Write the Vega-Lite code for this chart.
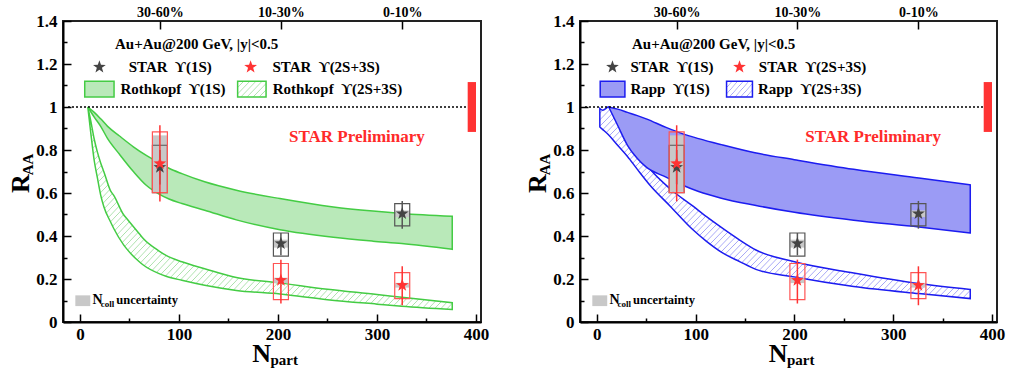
{
  "$schema": "https://vega.github.io/schema/vega-lite/v6.json",
  "background": "white",
  "padding": {"left": 7, "top": 4, "right": 5, "bottom": 2},
  "spacing": 99,
  "bounds": "flush",
  "datasets": {
    "r1S": [
      {"N": 8, "lo": 1.0, "hi": 1.0}, {"N": 14.5, "lo": 0.953, "hi": 0.975}, {"N": 21, "lo": 0.91, "hi": 0.945},
      {"N": 28, "lo": 0.853, "hi": 0.91}, {"N": 40, "lo": 0.78, "hi": 0.865}, {"N": 54, "lo": 0.70, "hi": 0.815},
      {"N": 67, "lo": 0.636, "hi": 0.775}, {"N": 80, "lo": 0.595, "hi": 0.74}, {"N": 90, "lo": 0.572, "hi": 0.715},
      {"N": 103, "lo": 0.551, "hi": 0.69}, {"N": 126, "lo": 0.52, "hi": 0.652}, {"N": 158, "lo": 0.475, "hi": 0.613},
      {"N": 202, "lo": 0.429, "hi": 0.574}, {"N": 256, "lo": 0.394, "hi": 0.535}, {"N": 296, "lo": 0.376, "hi": 0.516},
      {"N": 325, "lo": 0.365, "hi": 0.505}, {"N": 376, "lo": 0.338, "hi": 0.492}
    ],
    "r2S": [
      {"N": 8, "lo": 1.0, "hi": 1.0}, {"N": 11, "lo": 0.88, "hi": 0.935}, {"N": 14.5, "lo": 0.75, "hi": 0.85},
      {"N": 17.7, "lo": 0.67, "hi": 0.79}, {"N": 21, "lo": 0.59, "hi": 0.74}, {"N": 24.3, "lo": 0.535, "hi": 0.698},
      {"N": 31, "lo": 0.465, "hi": 0.61}, {"N": 34.2, "lo": 0.435, "hi": 0.589}, {"N": 44, "lo": 0.36, "hi": 0.50},
      {"N": 47.3, "lo": 0.34, "hi": 0.481}, {"N": 60, "lo": 0.28, "hi": 0.41}, {"N": 64, "lo": 0.265, "hi": 0.388},
      {"N": 80, "lo": 0.225, "hi": 0.33}, {"N": 87, "lo": 0.213, "hi": 0.31}, {"N": 103, "lo": 0.194, "hi": 0.28},
      {"N": 126, "lo": 0.171, "hi": 0.248}, {"N": 158, "lo": 0.147, "hi": 0.207}, {"N": 202, "lo": 0.13, "hi": 0.182},
      {"N": 250, "lo": 0.104, "hi": 0.152}, {"N": 300, "lo": 0.083, "hi": 0.128}, {"N": 325, "lo": 0.073, "hi": 0.115},
      {"N": 376, "lo": 0.058, "hi": 0.09}
    ],
    "p1S": [
      {"N": 12, "lo": 1.0, "hi": 1.0}, {"N": 21, "lo": 0.915, "hi": 0.99}, {"N": 31, "lo": 0.822, "hi": 0.975},
      {"N": 41, "lo": 0.76, "hi": 0.96}, {"N": 50, "lo": 0.72, "hi": 0.945}, {"N": 70, "lo": 0.674, "hi": 0.905},
      {"N": 87, "lo": 0.636, "hi": 0.875}, {"N": 103, "lo": 0.607, "hi": 0.853}, {"N": 126, "lo": 0.576, "hi": 0.825},
      {"N": 160, "lo": 0.543, "hi": 0.787}, {"N": 200, "lo": 0.51, "hi": 0.755}, {"N": 260, "lo": 0.473, "hi": 0.71},
      {"N": 326, "lo": 0.442, "hi": 0.67}, {"N": 378, "lo": 0.414, "hi": 0.638}
    ],
    "p2S": [
      {"N": 3, "lo": 0.907, "hi": 0.993}, {"N": 6, "lo": 0.895, "hi": 0.985}, {"N": 12, "lo": 0.87, "hi": 1.0},
      {"N": 21, "lo": 0.822, "hi": 0.93}, {"N": 31, "lo": 0.77, "hi": 0.855}, {"N": 41, "lo": 0.71, "hi": 0.79},
      {"N": 54, "lo": 0.635, "hi": 0.71}, {"N": 74, "lo": 0.54, "hi": 0.62}, {"N": 97, "lo": 0.43, "hi": 0.54},
      {"N": 111, "lo": 0.375, "hi": 0.49}, {"N": 126, "lo": 0.325, "hi": 0.44}, {"N": 145, "lo": 0.28, "hi": 0.38},
      {"N": 161, "lo": 0.245, "hi": 0.335}, {"N": 200, "lo": 0.209, "hi": 0.28}, {"N": 260, "lo": 0.165, "hi": 0.228},
      {"N": 326, "lo": 0.132, "hi": 0.179}, {"N": 378, "lo": 0.109, "hi": 0.151}
    ],
    "pts": [
      {"N": 80.8, "state": "1S", "v": 0.72, "eLo": 0.64, "eHi": 0.80, "sLo": 0.602, "sHi": 0.822, "nLo": 0.605, "nHi": 0.835},
      {"N": 203, "state": "1S", "v": 0.365, "eLo": 0.31, "eHi": 0.414, "sLo": 0.306, "sHi": 0.414, "nLo": 0.346, "nHi": 0.383},
      {"N": 325.5, "state": "1S", "v": 0.504, "eLo": 0.434, "eHi": 0.563, "sLo": 0.447, "sHi": 0.551, "nLo": 0.488, "nHi": 0.519},
      {"N": 80.8, "state": "2S", "v": 0.737, "eLo": 0.561, "eHi": 0.915, "sLo": 0.602, "sHi": 0.884, "nLo": 0.615, "nHi": 0.868},
      {"N": 203, "state": "2S", "v": 0.194, "eLo": 0.086, "eHi": 0.29, "sLo": 0.104, "sHi": 0.272, "nLo": 0.181, "nHi": 0.206},
      {"N": 325.5, "state": "2S", "v": 0.171, "eLo": 0.078, "eHi": 0.259, "sLo": 0.109, "sHi": 0.23, "nLo": 0.16, "nHi": 0.182}
    ],
    "globalUnc": [{"N1": 391.6, "N2": 400, "lo": 0.884, "hi": 1.116}],
    "unity": [{"N1": -12, "N2": 391.6, "v": 1}],
    "legTextL": [
      {"N": 35.5, "v": 1.295, "t": "Au+Au@200 GeV, |y|<0.5"},
      {"N": 49.3, "v": 1.186, "t": "STAR\u00a0 ϒ(1S)"},
      {"N": 194.4, "v": 1.186, "t": "STAR\u00a0 ϒ(2S+3S)"},
      {"N": 41, "v": 1.082, "t": "Rothkopf\u00a0 ϒ(1S)"},
      {"N": 194.8, "v": 1.082, "t": "Rothkopf\u00a0 ϒ(2S+3S)"}
    ],
    "legTextR": [
      {"N": 35.6, "v": 1.295, "t": "Au+Au@200 GeV, |y|<0.5"},
      {"N": 34, "v": 1.186, "t": "STAR\u00a0 ϒ(1S)"},
      {"N": 164, "v": 1.186, "t": "STAR\u00a0 ϒ(2S+3S)"},
      {"N": 34, "v": 1.082, "t": "Rapp\u00a0 ϒ(1S)"},
      {"N": 163, "v": 1.082, "t": "Rapp\u00a0 ϒ(2S+3S)"}
    ],
    "legStarL": [{"N": 19.7, "v": 1.186, "state": "1S"}, {"N": 172.4, "v": 1.186, "state": "2S"}],
    "legStarR": [{"N": 15.8, "v": 1.186, "state": "1S"}, {"N": 144.4, "v": 1.186, "state": "2S"}],
    "legBoxL": [{"k": "1S", "N1": 4.9, "N2": 34.5, "v1": 1.047, "v2": 1.12}, {"k": "2S", "N1": 159.3, "N2": 188, "v1": 1.047, "v2": 1.12}],
    "legBoxR": [{"k": "1S", "N1": 3.4, "N2": 28.4, "v1": 1.047, "v2": 1.12}, {"k": "2S", "N1": 131.3, "N2": 157.5, "v1": 1.047, "v2": 1.12}],
    "ncollBox": [{"N1": -4.6, "N2": 10.5, "v1": 0.074, "v2": 0.124}],
    "ncollN": [{"N": 12.8, "v": 0.086, "t": "N"}],
    "ncollSub": [{"N": 21, "v": 0.071, "t": "coll"}],
    "ncollTxt": [{"N": 36.7, "v": 0.086, "t": "uncertainty"}],
    "prelim": [{"N": 279.7, "v": 0.86, "t": "STAR Preliminary"}],
    "titleBig": [{"N": 174.1, "v": -0.186, "t": "N"}],
    "titleSub": [{"N": 192.5, "v": -0.2, "t": "part"}],
    "yTitleBig": [{"N": -51.2, "v": 0.6, "t": "R"}],
    "yTitleSub": [{"N": -47.3, "v": 0.682, "t": "AA"}]
  },
  "hconcat": [
    {
      "width": 418, "height": 301,
      "resolve": {"axis": {"x": "independent", "y": "independent"}},
      "layer": [
        {"data": {"name": "r2S"}, "mark": {"type": "area", "interpolate": "monotone", "fill": "#a9e1a9"},
         "encoding": {
           "x": {"field": "N", "type": "quantitative", "scale": {"domain": [-12, 400], "nice": false, "zero": false},
                 "axis": {"orient": "bottom", "values": [0, 100, 200, 300, 400], "tickSize": -8, "labelPadding": 12, "format": "d", "labelFlush": false, "labelOverlap": false}},
           "y": {"field": "lo", "type": "quantitative", "scale": {"domain": [0, 1.4], "nice": false, "zero": false},
                 "axis": {"orient": "left", "values": [0, 0.2, 0.4, 0.6, 0.8, 1, 1.2, 1.4], "tickSize": -8, "labelPadding": 14, "format": "~g", "labelFlush": false, "labelOverlap": false}},
           "y2": {"field": "hi"}}},
        {"data": {"name": "r2S"}, "mark": {"type": "area", "interpolate": "monotone", "fill": {"gradient": "linear", "x1": 0, "y1": 0, "x2": 1.2, "y2": 0.63, "stops": [
{"offset":0,"color":"#fff0"},{"offset":0.00168,"color":"#fff"},{"offset":0.00952,"color":"#fff"},
{"offset":0.0112,"color":"#fff0"},{"offset":0.01288,"color":"#fff"},{"offset":0.02072,"color":"#fff"},
{"offset":0.0224,"color":"#fff0"},{"offset":0.02408,"color":"#fff"},{"offset":0.03192,"color":"#fff"},
{"offset":0.0336,"color":"#fff0"},{"offset":0.03528,"color":"#fff"},{"offset":0.04312,"color":"#fff"},
{"offset":0.0448,"color":"#fff0"},{"offset":0.04648,"color":"#fff"},{"offset":0.05432,"color":"#fff"},
{"offset":0.056,"color":"#fff0"},{"offset":0.05768,"color":"#fff"},{"offset":0.06552,"color":"#fff"},
{"offset":0.0672,"color":"#fff0"},{"offset":0.06888,"color":"#fff"},{"offset":0.07672,"color":"#fff"},
{"offset":0.0784,"color":"#fff0"},{"offset":0.08008,"color":"#fff"},{"offset":0.08792,"color":"#fff"},
{"offset":0.0896,"color":"#fff0"},{"offset":0.09128,"color":"#fff"},{"offset":0.09912,"color":"#fff"},
{"offset":0.1008,"color":"#fff0"},{"offset":0.10248,"color":"#fff"},{"offset":0.11032,"color":"#fff"},
{"offset":0.112,"color":"#fff0"},{"offset":0.11368,"color":"#fff"},{"offset":0.12152,"color":"#fff"},
{"offset":0.1232,"color":"#fff0"},{"offset":0.12488,"color":"#fff"},{"offset":0.13272,"color":"#fff"},
{"offset":0.1344,"color":"#fff0"},{"offset":0.13608,"color":"#fff"},{"offset":0.14392,"color":"#fff"},
{"offset":0.1456,"color":"#fff0"},{"offset":0.14728,"color":"#fff"},{"offset":0.15512,"color":"#fff"},
{"offset":0.1568,"color":"#fff0"},{"offset":0.15848,"color":"#fff"},{"offset":0.16632,"color":"#fff"},
{"offset":0.168,"color":"#fff0"},{"offset":0.16968,"color":"#fff"},{"offset":0.17752,"color":"#fff"},
{"offset":0.1792,"color":"#fff0"},{"offset":0.18088,"color":"#fff"},{"offset":0.18872,"color":"#fff"},
{"offset":0.1904,"color":"#fff0"},{"offset":0.19208,"color":"#fff"},{"offset":0.19992,"color":"#fff"},
{"offset":0.2016,"color":"#fff0"},{"offset":0.20328,"color":"#fff"},{"offset":0.21112,"color":"#fff"},
{"offset":0.2128,"color":"#fff0"},{"offset":0.21448,"color":"#fff"},{"offset":0.22232,"color":"#fff"},
{"offset":0.224,"color":"#fff0"},{"offset":0.22568,"color":"#fff"},{"offset":0.23352,"color":"#fff"},
{"offset":0.2352,"color":"#fff0"},{"offset":0.23688,"color":"#fff"},{"offset":0.24472,"color":"#fff"},
{"offset":0.2464,"color":"#fff0"},{"offset":0.24808,"color":"#fff"},{"offset":0.25592,"color":"#fff"},
{"offset":0.2576,"color":"#fff0"},{"offset":0.25928,"color":"#fff"},{"offset":0.26712,"color":"#fff"},
{"offset":0.2688,"color":"#fff0"},{"offset":0.27048,"color":"#fff"},{"offset":0.27832,"color":"#fff"},
{"offset":0.28,"color":"#fff0"},{"offset":0.28168,"color":"#fff"},{"offset":0.28952,"color":"#fff"},
{"offset":0.2912,"color":"#fff0"},{"offset":0.29288,"color":"#fff"},{"offset":0.30072,"color":"#fff"},
{"offset":0.3024,"color":"#fff0"},{"offset":0.30408,"color":"#fff"},{"offset":0.31192,"color":"#fff"},
{"offset":0.3136,"color":"#fff0"},{"offset":0.31528,"color":"#fff"},{"offset":0.32312,"color":"#fff"},
{"offset":0.3248,"color":"#fff0"},{"offset":0.32648,"color":"#fff"},{"offset":0.33432,"color":"#fff"},
{"offset":0.336,"color":"#fff0"},{"offset":0.33768,"color":"#fff"},{"offset":0.34552,"color":"#fff"},
{"offset":0.3472,"color":"#fff0"},{"offset":0.34888,"color":"#fff"},{"offset":0.35672,"color":"#fff"},
{"offset":0.3584,"color":"#fff0"},{"offset":0.36008,"color":"#fff"},{"offset":0.36792,"color":"#fff"},
{"offset":0.3696,"color":"#fff0"},{"offset":0.37128,"color":"#fff"},{"offset":0.37912,"color":"#fff"},
{"offset":0.3808,"color":"#fff0"},{"offset":0.38248,"color":"#fff"},{"offset":0.39032,"color":"#fff"},
{"offset":0.392,"color":"#fff0"},{"offset":0.39368,"color":"#fff"},{"offset":0.40152,"color":"#fff"},
{"offset":0.4032,"color":"#fff0"},{"offset":0.40488,"color":"#fff"},{"offset":0.41272,"color":"#fff"},
{"offset":0.4144,"color":"#fff0"},{"offset":0.41608,"color":"#fff"},{"offset":0.42392,"color":"#fff"},
{"offset":0.4256,"color":"#fff0"},{"offset":0.42728,"color":"#fff"},{"offset":0.43512,"color":"#fff"},
{"offset":0.4368,"color":"#fff0"},{"offset":0.43848,"color":"#fff"},{"offset":0.44632,"color":"#fff"},
{"offset":0.448,"color":"#fff0"},{"offset":0.44968,"color":"#fff"},{"offset":0.45752,"color":"#fff"},
{"offset":0.4592,"color":"#fff0"},{"offset":0.46088,"color":"#fff"},{"offset":0.46872,"color":"#fff"},
{"offset":0.4704,"color":"#fff0"},{"offset":0.47208,"color":"#fff"},{"offset":0.47992,"color":"#fff"},
{"offset":0.4816,"color":"#fff0"},{"offset":0.48328,"color":"#fff"},{"offset":0.49112,"color":"#fff"},
{"offset":0.4928,"color":"#fff0"},{"offset":0.49448,"color":"#fff"},{"offset":0.50232,"color":"#fff"},
{"offset":0.504,"color":"#fff0"},{"offset":0.50568,"color":"#fff"},{"offset":0.51352,"color":"#fff"},
{"offset":0.5152,"color":"#fff0"},{"offset":0.51688,"color":"#fff"},{"offset":0.52472,"color":"#fff"},
{"offset":0.5264,"color":"#fff0"},{"offset":0.52808,"color":"#fff"},{"offset":0.53592,"color":"#fff"},
{"offset":0.5376,"color":"#fff0"},{"offset":0.53928,"color":"#fff"},{"offset":0.54712,"color":"#fff"},
{"offset":0.5488,"color":"#fff0"},{"offset":0.55048,"color":"#fff"},{"offset":0.55832,"color":"#fff"},
{"offset":0.56,"color":"#fff0"},{"offset":0.56168,"color":"#fff"},{"offset":0.56952,"color":"#fff"},
{"offset":0.5712,"color":"#fff0"},{"offset":0.57288,"color":"#fff"},{"offset":0.58072,"color":"#fff"},
{"offset":0.5824,"color":"#fff0"},{"offset":0.58408,"color":"#fff"},{"offset":0.59192,"color":"#fff"},
{"offset":0.5936,"color":"#fff0"},{"offset":0.59528,"color":"#fff"},{"offset":0.60312,"color":"#fff"},
{"offset":0.6048,"color":"#fff0"},{"offset":0.60648,"color":"#fff"},{"offset":0.61432,"color":"#fff"},
{"offset":0.616,"color":"#fff0"},{"offset":0.61768,"color":"#fff"},{"offset":0.62552,"color":"#fff"},
{"offset":0.6272,"color":"#fff0"},{"offset":0.62888,"color":"#fff"},{"offset":0.63672,"color":"#fff"},
{"offset":0.6384,"color":"#fff0"},{"offset":0.64008,"color":"#fff"},{"offset":0.64792,"color":"#fff"},
{"offset":0.6496,"color":"#fff0"},{"offset":0.65128,"color":"#fff"},{"offset":0.65912,"color":"#fff"},
{"offset":0.6608,"color":"#fff0"},{"offset":0.66248,"color":"#fff"},{"offset":0.67032,"color":"#fff"},
{"offset":0.672,"color":"#fff0"},{"offset":0.67368,"color":"#fff"},{"offset":0.68152,"color":"#fff"},
{"offset":0.6832,"color":"#fff0"},{"offset":0.68488,"color":"#fff"},{"offset":0.69272,"color":"#fff"},
{"offset":0.6944,"color":"#fff0"},{"offset":0.69608,"color":"#fff"},{"offset":0.70392,"color":"#fff"},
{"offset":0.7056,"color":"#fff0"},{"offset":0.70728,"color":"#fff"},{"offset":0.71512,"color":"#fff"},
{"offset":0.7168,"color":"#fff0"},{"offset":0.71848,"color":"#fff"},{"offset":0.72632,"color":"#fff"},
{"offset":0.728,"color":"#fff0"},{"offset":0.72968,"color":"#fff"},{"offset":0.73752,"color":"#fff"},
{"offset":0.7392,"color":"#fff0"},{"offset":0.74088,"color":"#fff"},{"offset":0.74872,"color":"#fff"},
{"offset":0.7504,"color":"#fff0"},{"offset":0.75208,"color":"#fff"},{"offset":0.75992,"color":"#fff"},
{"offset":0.7616,"color":"#fff0"},{"offset":0.76328,"color":"#fff"},{"offset":0.77112,"color":"#fff"},
{"offset":0.7728,"color":"#fff0"},{"offset":0.77448,"color":"#fff"},{"offset":0.78232,"color":"#fff"},
{"offset":0.784,"color":"#fff0"},{"offset":0.78568,"color":"#fff"},{"offset":0.79352,"color":"#fff"},
{"offset":0.7952,"color":"#fff0"},{"offset":0.79688,"color":"#fff"},{"offset":0.80472,"color":"#fff"},
{"offset":0.8064,"color":"#fff0"},{"offset":0.80808,"color":"#fff"},{"offset":0.81592,"color":"#fff"},
{"offset":0.8176,"color":"#fff0"},{"offset":0.81928,"color":"#fff"},{"offset":0.82712,"color":"#fff"},
{"offset":0.8288,"color":"#fff0"},{"offset":0.83048,"color":"#fff"},{"offset":0.83832,"color":"#fff"},
{"offset":0.84,"color":"#fff0"},{"offset":0.84168,"color":"#fff"},{"offset":0.84952,"color":"#fff"},
{"offset":0.8512,"color":"#fff0"},{"offset":0.85288,"color":"#fff"},{"offset":0.86072,"color":"#fff"},
{"offset":0.8624,"color":"#fff0"},{"offset":0.86408,"color":"#fff"},{"offset":0.87192,"color":"#fff"},
{"offset":0.8736,"color":"#fff0"},{"offset":0.87528,"color":"#fff"},{"offset":0.88312,"color":"#fff"},
{"offset":0.8848,"color":"#fff0"},{"offset":0.88648,"color":"#fff"},{"offset":0.89432,"color":"#fff"},
{"offset":0.896,"color":"#fff0"},{"offset":0.89768,"color":"#fff"},{"offset":0.90552,"color":"#fff"},
{"offset":0.9072,"color":"#fff0"},{"offset":0.90888,"color":"#fff"},{"offset":0.91672,"color":"#fff"},
{"offset":0.9184,"color":"#fff0"},{"offset":0.92008,"color":"#fff"},{"offset":0.92792,"color":"#fff"},
{"offset":0.9296,"color":"#fff0"},{"offset":0.93128,"color":"#fff"},{"offset":0.93912,"color":"#fff"},
{"offset":0.9408,"color":"#fff0"},{"offset":0.94248,"color":"#fff"},{"offset":0.95032,"color":"#fff"},
{"offset":0.952,"color":"#fff0"},{"offset":0.95368,"color":"#fff"},{"offset":0.96152,"color":"#fff"},
{"offset":0.9632,"color":"#fff0"},{"offset":0.96488,"color":"#fff"},{"offset":0.97272,"color":"#fff"},
{"offset":0.9744,"color":"#fff0"},{"offset":0.97608,"color":"#fff"},{"offset":0.98392,"color":"#fff"},
{"offset":0.9856,"color":"#fff0"},{"offset":0.98728,"color":"#fff"},{"offset":0.99512,"color":"#fff"},
{"offset":0.9968,"color":"#fff0"},{"offset":1,"color":"#fff"}
         ]}},
         "encoding": {"x": {"field": "N", "type": "quantitative", "axis": null}, "y": {"field": "lo", "type": "quantitative", "axis": null}, "y2": {"field": "hi"}}},
        {"data": {"name": "r2S"}, "mark": {"type": "area", "interpolate": "monotone", "fill": "transparent", "stroke": "#44cc44", "strokeWidth": 1.5},
         "encoding": {"x": {"field": "N", "type": "quantitative", "axis": null}, "y": {"field": "lo", "type": "quantitative", "axis": null}, "y2": {"field": "hi"}}},
        {"data": {"name": "r1S"}, "mark": {"type": "area", "interpolate": "monotone", "fill": "#b9e9b9", "stroke": "#44cc44", "strokeWidth": 1.5},
         "encoding": {
           "x": {"field": "N", "type": "quantitative",
                 "axis": {"orient": "top", "values": [80.8, 203, 325.5], "tickSize": -8, "labelPadding": 10, "domain": false, "labelFontSize": 14, "labelExpr": "datum.value < 100 ? '30-60%' : (datum.value < 250 ? '10-30%' : '0-10%')"}},
           "y": {"field": "lo", "type": "quantitative",
                 "axis": {"orient": "left", "values": [0.1, 0.3, 0.5, 0.7, 0.9, 1.1, 1.3], "tickSize": -4, "labels": false, "domain": false}},
           "y2": {"field": "hi"}}},
        {"data": {"name": "pts"}, "mark": {"type": "bar", "width": 14, "fill": "#c8c8c8"},
         "encoding": {
           "x": {"field": "N", "type": "quantitative",
                 "axis": {"orient": "bottom", "values": [50, 150, 250, 350], "tickSize": -4, "labels": false, "domain": false}},
           "y": {"field": "nLo", "type": "quantitative", "axis": null}, "y2": {"field": "nHi"}}},
        {"data": {"name": "pts"}, "mark": {"type": "bar", "width": 15, "fill": "transparent", "strokeWidth": 1.2},
         "encoding": {
           "x": {"field": "N", "type": "quantitative", "axis": null},
           "y": {"field": "sLo", "type": "quantitative", "axis": null}, "y2": {"field": "sHi"},
           "stroke": {"field": "state", "type": "nominal", "scale": {"domain": ["1S", "2S"], "range": ["#555555", "#ff5555"]}, "legend": null}}},
        {"data": {"name": "pts"}, "mark": {"type": "rule", "strokeWidth": 1.5},
         "encoding": {
           "x": {"field": "N", "type": "quantitative", "axis": null},
           "y": {"field": "eLo", "type": "quantitative", "axis": null}, "y2": {"field": "eHi"},
           "color": {"field": "state", "type": "nominal", "scale": {"domain": ["1S", "2S"], "range": ["#555555", "#ff3333"]}, "legend": null}}},
        {"data": {"name": "pts"}, "mark": {"type": "point", "filled": true, "opacity": 1, "size": 180, "shape": "M0,-1L0.235,-0.324L0.951,-0.309L0.38,0.124L0.588,0.809L0,0.4L-0.588,0.809L-0.38,0.124L-0.951,-0.309L-0.235,-0.324Z"},
         "encoding": {
           "x": {"field": "N", "type": "quantitative", "axis": null},
           "y": {"field": "v", "type": "quantitative", "axis": null},
           "fill": {"field": "state", "type": "nominal", "scale": {"domain": ["1S", "2S"], "range": ["#444444", "#ff3333"]}, "legend": null}}},
        {"data": {"name": "unity"}, "mark": {"type": "rule", "color": "#000", "strokeWidth": 1.3, "strokeDash": [2, 2]},
         "encoding": {"x": {"field": "N1", "type": "quantitative", "axis": null}, "x2": {"field": "N2"}, "y": {"field": "v", "type": "quantitative", "axis": null}}},
        {"data": {"name": "globalUnc"}, "mark": {"type": "rect", "fill": "#ff3333"},
         "encoding": {"x": {"field": "N1", "type": "quantitative", "axis": null}, "x2": {"field": "N2"}, "y": {"field": "lo", "type": "quantitative", "axis": null}, "y2": {"field": "hi"}}},
        {"data": {"name": "legBoxL"}, "transform": [{"filter": "datum.k == '1S'"}], "mark": {"type": "rect", "fill": "#b9e9b9", "stroke": "#44cc44", "strokeWidth": 1.5},
         "encoding": {"x": {"field": "N1", "type": "quantitative", "axis": null}, "x2": {"field": "N2"}, "y": {"field": "v1", "type": "quantitative", "axis": null}, "y2": {"field": "v2"}}},
        {"data": {"name": "legBoxL"}, "transform": [{"filter": "datum.k == '2S'"}], "mark": {"type": "rect", "fill": "#a9e1a9"},
         "encoding": {"x": {"field": "N1", "type": "quantitative", "axis": null}, "x2": {"field": "N2"}, "y": {"field": "v1", "type": "quantitative", "axis": null}, "y2": {"field": "v2"}}},
        {"data": {"name": "legBoxL"}, "transform": [{"filter": "datum.k == '2S'"}], "mark": {"type": "rect", "fill": {"gradient": "linear", "x1": 0, "y1": 0, "x2": 1.2, "y2": 0.64, "stops": [
{"offset":0,"color":"#fff0"},{"offset":0.021,"color":"#fff"},{"offset":0.119,"color":"#fff"},
{"offset":0.14,"color":"#fff0"},{"offset":0.161,"color":"#fff"},{"offset":0.259,"color":"#fff"},
{"offset":0.28,"color":"#fff0"},{"offset":0.301,"color":"#fff"},{"offset":0.399,"color":"#fff"},
{"offset":0.42,"color":"#fff0"},{"offset":0.441,"color":"#fff"},{"offset":0.539,"color":"#fff"},
{"offset":0.56,"color":"#fff0"},{"offset":0.581,"color":"#fff"},{"offset":0.679,"color":"#fff"},
{"offset":0.70,"color":"#fff0"},{"offset":0.721,"color":"#fff"},{"offset":0.819,"color":"#fff"},
{"offset":0.84,"color":"#fff0"},{"offset":0.861,"color":"#fff"},{"offset":0.959,"color":"#fff"},
{"offset":0.98,"color":"#fff0"},{"offset":1,"color":"#fff"}
         ]}},
         "encoding": {"x": {"field": "N1", "type": "quantitative", "axis": null}, "x2": {"field": "N2"}, "y": {"field": "v1", "type": "quantitative", "axis": null}, "y2": {"field": "v2"}}},
        {"data": {"name": "legBoxL"}, "transform": [{"filter": "datum.k == '2S'"}], "mark": {"type": "rect", "fill": "transparent", "stroke": "#44cc44", "strokeWidth": 1.5},
         "encoding": {"x": {"field": "N1", "type": "quantitative", "axis": null}, "x2": {"field": "N2"}, "y": {"field": "v1", "type": "quantitative", "axis": null}, "y2": {"field": "v2"}}},
        {"data": {"name": "legStarL"}, "mark": {"type": "point", "filled": true, "opacity": 1, "size": 180, "shape": "M0,-1L0.235,-0.324L0.951,-0.309L0.38,0.124L0.588,0.809L0,0.4L-0.588,0.809L-0.38,0.124L-0.951,-0.309L-0.235,-0.324Z"},
         "encoding": {"x": {"field": "N", "type": "quantitative", "axis": null}, "y": {"field": "v", "type": "quantitative", "axis": null},
           "fill": {"field": "state", "type": "nominal", "scale": {"domain": ["1S", "2S"], "range": ["#444444", "#ff3333"]}, "legend": null}}},
        {"data": {"name": "legTextL"}, "mark": {"type": "text", "align": "left", "baseline": "middle", "font": "Liberation Serif", "fontWeight": "bold", "fontSize": 15, "color": "#000"},
         "encoding": {"x": {"field": "N", "type": "quantitative", "axis": null}, "y": {"field": "v", "type": "quantitative", "axis": null}, "text": {"field": "t"}}},
        {"data": {"name": "prelim"}, "mark": {"type": "text", "align": "center", "baseline": "middle", "font": "Liberation Serif", "fontWeight": "bold", "fontSize": 17, "color": "#ff2a2a"},
         "encoding": {"x": {"field": "N", "type": "quantitative", "axis": null}, "y": {"field": "v", "type": "quantitative", "axis": null}, "text": {"field": "t"}}},
        {"data": {"name": "ncollBox"}, "mark": {"type": "rect", "fill": "#c8c8c8"},
         "encoding": {"x": {"field": "N1", "type": "quantitative", "axis": null}, "x2": {"field": "N2"}, "y": {"field": "v1", "type": "quantitative", "axis": null}, "y2": {"field": "v2"}}},
        {"data": {"name": "ncollN"}, "mark": {"type": "text", "align": "left", "baseline": "alphabetic", "font": "Liberation Serif", "fontWeight": "bold", "fontSize": 14, "color": "#000"},
         "encoding": {"x": {"field": "N", "type": "quantitative", "axis": null}, "y": {"field": "v", "type": "quantitative", "axis": null}, "text": {"field": "t"}}},
        {"data": {"name": "ncollSub"}, "mark": {"type": "text", "align": "left", "baseline": "alphabetic", "font": "Liberation Serif", "fontWeight": "bold", "fontSize": 9, "color": "#000"},
         "encoding": {"x": {"field": "N", "type": "quantitative", "axis": null}, "y": {"field": "v", "type": "quantitative", "axis": null}, "text": {"field": "t"}}},
        {"data": {"name": "ncollTxt"}, "mark": {"type": "text", "align": "left", "baseline": "alphabetic", "font": "Liberation Serif", "fontWeight": "bold", "fontSize": 12.5, "color": "#000"},
         "encoding": {"x": {"field": "N", "type": "quantitative", "axis": null}, "y": {"field": "v", "type": "quantitative", "axis": null}, "text": {"field": "t"}}},
        {"data": {"name": "titleBig"}, "mark": {"type": "text", "align": "left", "baseline": "alphabetic", "font": "Liberation Serif", "fontWeight": "bold", "fontSize": 26, "color": "#000"},
         "encoding": {"x": {"field": "N", "type": "quantitative", "axis": null}, "y": {"field": "v", "type": "quantitative", "axis": null}, "text": {"field": "t"}}},
        {"data": {"name": "titleSub"}, "mark": {"type": "text", "align": "left", "baseline": "alphabetic", "font": "Liberation Serif", "fontWeight": "bold", "fontSize": 15, "color": "#000"},
         "encoding": {"x": {"field": "N", "type": "quantitative", "axis": null}, "y": {"field": "v", "type": "quantitative", "axis": null}, "text": {"field": "t"}}},
        {"data": {"name": "yTitleBig"}, "mark": {"type": "text", "align": "left", "baseline": "alphabetic", "angle": 270, "font": "Liberation Serif", "fontWeight": "bold", "fontSize": 26, "color": "#000"},
         "encoding": {"x": {"field": "N", "type": "quantitative", "axis": null}, "y": {"field": "v", "type": "quantitative", "axis": null}, "text": {"field": "t"}}},
        {"data": {"name": "yTitleSub"}, "mark": {"type": "text", "align": "left", "baseline": "alphabetic", "angle": 270, "font": "Liberation Serif", "fontWeight": "bold", "fontSize": 15, "color": "#000"},
         "encoding": {"x": {"field": "N", "type": "quantitative", "axis": null}, "y": {"field": "v", "type": "quantitative", "axis": null}, "text": {"field": "t"}}}
      ]
    },
    {
      "width": 417, "height": 301,
      "resolve": {"axis": {"x": "independent", "y": "independent"}},
      "layer": [
        {"data": {"name": "p2S"}, "mark": {"type": "area", "interpolate": "monotone", "fill": "#a3a3f6"},
         "encoding": {
           "x": {"field": "N", "type": "quantitative", "scale": {"domain": [-12, 400], "nice": false, "zero": false},
                 "axis": {"orient": "bottom", "values": [0, 100, 200, 300, 400], "tickSize": -8, "labelPadding": 12, "format": "d", "labelFlush": false, "labelOverlap": false}},
           "y": {"field": "lo", "type": "quantitative", "scale": {"domain": [0, 1.4], "nice": false, "zero": false},
                 "axis": {"orient": "left", "values": [0, 0.2, 0.4, 0.6, 0.8, 1, 1.2, 1.4], "tickSize": -8, "labelPadding": 14, "format": "~g", "labelFlush": false, "labelOverlap": false}},
           "y2": {"field": "hi"}}},
        {"data": {"name": "p2S"}, "mark": {"type": "area", "interpolate": "monotone", "fill": {"gradient": "linear", "x1": 0, "y1": 0, "x2": 1.2, "y2": 0.6, "stops": [
{"offset":0,"color":"#fff0"},{"offset":0.00168,"color":"#fff"},{"offset":0.00952,"color":"#fff"},
{"offset":0.0112,"color":"#fff0"},{"offset":0.01288,"color":"#fff"},{"offset":0.02072,"color":"#fff"},
{"offset":0.0224,"color":"#fff0"},{"offset":0.02408,"color":"#fff"},{"offset":0.03192,"color":"#fff"},
{"offset":0.0336,"color":"#fff0"},{"offset":0.03528,"color":"#fff"},{"offset":0.04312,"color":"#fff"},
{"offset":0.0448,"color":"#fff0"},{"offset":0.04648,"color":"#fff"},{"offset":0.05432,"color":"#fff"},
{"offset":0.056,"color":"#fff0"},{"offset":0.05768,"color":"#fff"},{"offset":0.06552,"color":"#fff"},
{"offset":0.0672,"color":"#fff0"},{"offset":0.06888,"color":"#fff"},{"offset":0.07672,"color":"#fff"},
{"offset":0.0784,"color":"#fff0"},{"offset":0.08008,"color":"#fff"},{"offset":0.08792,"color":"#fff"},
{"offset":0.0896,"color":"#fff0"},{"offset":0.09128,"color":"#fff"},{"offset":0.09912,"color":"#fff"},
{"offset":0.1008,"color":"#fff0"},{"offset":0.10248,"color":"#fff"},{"offset":0.11032,"color":"#fff"},
{"offset":0.112,"color":"#fff0"},{"offset":0.11368,"color":"#fff"},{"offset":0.12152,"color":"#fff"},
{"offset":0.1232,"color":"#fff0"},{"offset":0.12488,"color":"#fff"},{"offset":0.13272,"color":"#fff"},
{"offset":0.1344,"color":"#fff0"},{"offset":0.13608,"color":"#fff"},{"offset":0.14392,"color":"#fff"},
{"offset":0.1456,"color":"#fff0"},{"offset":0.14728,"color":"#fff"},{"offset":0.15512,"color":"#fff"},
{"offset":0.1568,"color":"#fff0"},{"offset":0.15848,"color":"#fff"},{"offset":0.16632,"color":"#fff"},
{"offset":0.168,"color":"#fff0"},{"offset":0.16968,"color":"#fff"},{"offset":0.17752,"color":"#fff"},
{"offset":0.1792,"color":"#fff0"},{"offset":0.18088,"color":"#fff"},{"offset":0.18872,"color":"#fff"},
{"offset":0.1904,"color":"#fff0"},{"offset":0.19208,"color":"#fff"},{"offset":0.19992,"color":"#fff"},
{"offset":0.2016,"color":"#fff0"},{"offset":0.20328,"color":"#fff"},{"offset":0.21112,"color":"#fff"},
{"offset":0.2128,"color":"#fff0"},{"offset":0.21448,"color":"#fff"},{"offset":0.22232,"color":"#fff"},
{"offset":0.224,"color":"#fff0"},{"offset":0.22568,"color":"#fff"},{"offset":0.23352,"color":"#fff"},
{"offset":0.2352,"color":"#fff0"},{"offset":0.23688,"color":"#fff"},{"offset":0.24472,"color":"#fff"},
{"offset":0.2464,"color":"#fff0"},{"offset":0.24808,"color":"#fff"},{"offset":0.25592,"color":"#fff"},
{"offset":0.2576,"color":"#fff0"},{"offset":0.25928,"color":"#fff"},{"offset":0.26712,"color":"#fff"},
{"offset":0.2688,"color":"#fff0"},{"offset":0.27048,"color":"#fff"},{"offset":0.27832,"color":"#fff"},
{"offset":0.28,"color":"#fff0"},{"offset":0.28168,"color":"#fff"},{"offset":0.28952,"color":"#fff"},
{"offset":0.2912,"color":"#fff0"},{"offset":0.29288,"color":"#fff"},{"offset":0.30072,"color":"#fff"},
{"offset":0.3024,"color":"#fff0"},{"offset":0.30408,"color":"#fff"},{"offset":0.31192,"color":"#fff"},
{"offset":0.3136,"color":"#fff0"},{"offset":0.31528,"color":"#fff"},{"offset":0.32312,"color":"#fff"},
{"offset":0.3248,"color":"#fff0"},{"offset":0.32648,"color":"#fff"},{"offset":0.33432,"color":"#fff"},
{"offset":0.336,"color":"#fff0"},{"offset":0.33768,"color":"#fff"},{"offset":0.34552,"color":"#fff"},
{"offset":0.3472,"color":"#fff0"},{"offset":0.34888,"color":"#fff"},{"offset":0.35672,"color":"#fff"},
{"offset":0.3584,"color":"#fff0"},{"offset":0.36008,"color":"#fff"},{"offset":0.36792,"color":"#fff"},
{"offset":0.3696,"color":"#fff0"},{"offset":0.37128,"color":"#fff"},{"offset":0.37912,"color":"#fff"},
{"offset":0.3808,"color":"#fff0"},{"offset":0.38248,"color":"#fff"},{"offset":0.39032,"color":"#fff"},
{"offset":0.392,"color":"#fff0"},{"offset":0.39368,"color":"#fff"},{"offset":0.40152,"color":"#fff"},
{"offset":0.4032,"color":"#fff0"},{"offset":0.40488,"color":"#fff"},{"offset":0.41272,"color":"#fff"},
{"offset":0.4144,"color":"#fff0"},{"offset":0.41608,"color":"#fff"},{"offset":0.42392,"color":"#fff"},
{"offset":0.4256,"color":"#fff0"},{"offset":0.42728,"color":"#fff"},{"offset":0.43512,"color":"#fff"},
{"offset":0.4368,"color":"#fff0"},{"offset":0.43848,"color":"#fff"},{"offset":0.44632,"color":"#fff"},
{"offset":0.448,"color":"#fff0"},{"offset":0.44968,"color":"#fff"},{"offset":0.45752,"color":"#fff"},
{"offset":0.4592,"color":"#fff0"},{"offset":0.46088,"color":"#fff"},{"offset":0.46872,"color":"#fff"},
{"offset":0.4704,"color":"#fff0"},{"offset":0.47208,"color":"#fff"},{"offset":0.47992,"color":"#fff"},
{"offset":0.4816,"color":"#fff0"},{"offset":0.48328,"color":"#fff"},{"offset":0.49112,"color":"#fff"},
{"offset":0.4928,"color":"#fff0"},{"offset":0.49448,"color":"#fff"},{"offset":0.50232,"color":"#fff"},
{"offset":0.504,"color":"#fff0"},{"offset":0.50568,"color":"#fff"},{"offset":0.51352,"color":"#fff"},
{"offset":0.5152,"color":"#fff0"},{"offset":0.51688,"color":"#fff"},{"offset":0.52472,"color":"#fff"},
{"offset":0.5264,"color":"#fff0"},{"offset":0.52808,"color":"#fff"},{"offset":0.53592,"color":"#fff"},
{"offset":0.5376,"color":"#fff0"},{"offset":0.53928,"color":"#fff"},{"offset":0.54712,"color":"#fff"},
{"offset":0.5488,"color":"#fff0"},{"offset":0.55048,"color":"#fff"},{"offset":0.55832,"color":"#fff"},
{"offset":0.56,"color":"#fff0"},{"offset":0.56168,"color":"#fff"},{"offset":0.56952,"color":"#fff"},
{"offset":0.5712,"color":"#fff0"},{"offset":0.57288,"color":"#fff"},{"offset":0.58072,"color":"#fff"},
{"offset":0.5824,"color":"#fff0"},{"offset":0.58408,"color":"#fff"},{"offset":0.59192,"color":"#fff"},
{"offset":0.5936,"color":"#fff0"},{"offset":0.59528,"color":"#fff"},{"offset":0.60312,"color":"#fff"},
{"offset":0.6048,"color":"#fff0"},{"offset":0.60648,"color":"#fff"},{"offset":0.61432,"color":"#fff"},
{"offset":0.616,"color":"#fff0"},{"offset":0.61768,"color":"#fff"},{"offset":0.62552,"color":"#fff"},
{"offset":0.6272,"color":"#fff0"},{"offset":0.62888,"color":"#fff"},{"offset":0.63672,"color":"#fff"},
{"offset":0.6384,"color":"#fff0"},{"offset":0.64008,"color":"#fff"},{"offset":0.64792,"color":"#fff"},
{"offset":0.6496,"color":"#fff0"},{"offset":0.65128,"color":"#fff"},{"offset":0.65912,"color":"#fff"},
{"offset":0.6608,"color":"#fff0"},{"offset":0.66248,"color":"#fff"},{"offset":0.67032,"color":"#fff"},
{"offset":0.672,"color":"#fff0"},{"offset":0.67368,"color":"#fff"},{"offset":0.68152,"color":"#fff"},
{"offset":0.6832,"color":"#fff0"},{"offset":0.68488,"color":"#fff"},{"offset":0.69272,"color":"#fff"},
{"offset":0.6944,"color":"#fff0"},{"offset":0.69608,"color":"#fff"},{"offset":0.70392,"color":"#fff"},
{"offset":0.7056,"color":"#fff0"},{"offset":0.70728,"color":"#fff"},{"offset":0.71512,"color":"#fff"},
{"offset":0.7168,"color":"#fff0"},{"offset":0.71848,"color":"#fff"},{"offset":0.72632,"color":"#fff"},
{"offset":0.728,"color":"#fff0"},{"offset":0.72968,"color":"#fff"},{"offset":0.73752,"color":"#fff"},
{"offset":0.7392,"color":"#fff0"},{"offset":0.74088,"color":"#fff"},{"offset":0.74872,"color":"#fff"},
{"offset":0.7504,"color":"#fff0"},{"offset":0.75208,"color":"#fff"},{"offset":0.75992,"color":"#fff"},
{"offset":0.7616,"color":"#fff0"},{"offset":0.76328,"color":"#fff"},{"offset":0.77112,"color":"#fff"},
{"offset":0.7728,"color":"#fff0"},{"offset":0.77448,"color":"#fff"},{"offset":0.78232,"color":"#fff"},
{"offset":0.784,"color":"#fff0"},{"offset":0.78568,"color":"#fff"},{"offset":0.79352,"color":"#fff"},
{"offset":0.7952,"color":"#fff0"},{"offset":0.79688,"color":"#fff"},{"offset":0.80472,"color":"#fff"},
{"offset":0.8064,"color":"#fff0"},{"offset":0.80808,"color":"#fff"},{"offset":0.81592,"color":"#fff"},
{"offset":0.8176,"color":"#fff0"},{"offset":0.81928,"color":"#fff"},{"offset":0.82712,"color":"#fff"},
{"offset":0.8288,"color":"#fff0"},{"offset":0.83048,"color":"#fff"},{"offset":0.83832,"color":"#fff"},
{"offset":0.84,"color":"#fff0"},{"offset":0.84168,"color":"#fff"},{"offset":0.84952,"color":"#fff"},
{"offset":0.8512,"color":"#fff0"},{"offset":0.85288,"color":"#fff"},{"offset":0.86072,"color":"#fff"},
{"offset":0.8624,"color":"#fff0"},{"offset":0.86408,"color":"#fff"},{"offset":0.87192,"color":"#fff"},
{"offset":0.8736,"color":"#fff0"},{"offset":0.87528,"color":"#fff"},{"offset":0.88312,"color":"#fff"},
{"offset":0.8848,"color":"#fff0"},{"offset":0.88648,"color":"#fff"},{"offset":0.89432,"color":"#fff"},
{"offset":0.896,"color":"#fff0"},{"offset":0.89768,"color":"#fff"},{"offset":0.90552,"color":"#fff"},
{"offset":0.9072,"color":"#fff0"},{"offset":0.90888,"color":"#fff"},{"offset":0.91672,"color":"#fff"},
{"offset":0.9184,"color":"#fff0"},{"offset":0.92008,"color":"#fff"},{"offset":0.92792,"color":"#fff"},
{"offset":0.9296,"color":"#fff0"},{"offset":0.93128,"color":"#fff"},{"offset":0.93912,"color":"#fff"},
{"offset":0.9408,"color":"#fff0"},{"offset":0.94248,"color":"#fff"},{"offset":0.95032,"color":"#fff"},
{"offset":0.952,"color":"#fff0"},{"offset":0.95368,"color":"#fff"},{"offset":0.96152,"color":"#fff"},
{"offset":0.9632,"color":"#fff0"},{"offset":0.96488,"color":"#fff"},{"offset":0.97272,"color":"#fff"},
{"offset":0.9744,"color":"#fff0"},{"offset":0.97608,"color":"#fff"},{"offset":0.98392,"color":"#fff"},
{"offset":0.9856,"color":"#fff0"},{"offset":0.98728,"color":"#fff"},{"offset":0.99512,"color":"#fff"},
{"offset":0.9968,"color":"#fff0"},{"offset":1,"color":"#fff"}
         ]}},
         "encoding": {"x": {"field": "N", "type": "quantitative", "axis": null}, "y": {"field": "lo", "type": "quantitative", "axis": null}, "y2": {"field": "hi"}}},
        {"data": {"name": "p2S"}, "mark": {"type": "area", "interpolate": "monotone", "fill": "transparent", "stroke": "#1c1cf0", "strokeWidth": 1.5},
         "encoding": {"x": {"field": "N", "type": "quantitative", "axis": null}, "y": {"field": "lo", "type": "quantitative", "axis": null}, "y2": {"field": "hi"}}},
        {"data": {"name": "p1S"}, "mark": {"type": "area", "interpolate": "monotone", "fill": "#9b9bf5", "stroke": "#1c1cf0", "strokeWidth": 1.5},
         "encoding": {
           "x": {"field": "N", "type": "quantitative",
                 "axis": {"orient": "top", "values": [80.8, 203, 325.5], "tickSize": -8, "labelPadding": 10, "domain": false, "labelFontSize": 14, "labelExpr": "datum.value < 100 ? '30-60%' : (datum.value < 250 ? '10-30%' : '0-10%')"}},
           "y": {"field": "lo", "type": "quantitative",
                 "axis": {"orient": "left", "values": [0.1, 0.3, 0.5, 0.7, 0.9, 1.1, 1.3], "tickSize": -4, "labels": false, "domain": false}},
           "y2": {"field": "hi"}}},
        {"data": {"name": "pts"}, "mark": {"type": "bar", "width": 14, "fill": "#c8c8c8"},
         "encoding": {
           "x": {"field": "N", "type": "quantitative",
                 "axis": {"orient": "bottom", "values": [50, 150, 250, 350], "tickSize": -4, "labels": false, "domain": false}},
           "y": {"field": "nLo", "type": "quantitative", "axis": null}, "y2": {"field": "nHi"}}},
        {"data": {"name": "pts"}, "mark": {"type": "bar", "width": 15, "fill": "transparent", "strokeWidth": 1.2},
         "encoding": {
           "x": {"field": "N", "type": "quantitative", "axis": null},
           "y": {"field": "sLo", "type": "quantitative", "axis": null}, "y2": {"field": "sHi"},
           "stroke": {"field": "state", "type": "nominal", "scale": {"domain": ["1S", "2S"], "range": ["#555555", "#ff5555"]}, "legend": null}}},
        {"data": {"name": "pts"}, "mark": {"type": "rule", "strokeWidth": 1.5},
         "encoding": {
           "x": {"field": "N", "type": "quantitative", "axis": null},
           "y": {"field": "eLo", "type": "quantitative", "axis": null}, "y2": {"field": "eHi"},
           "color": {"field": "state", "type": "nominal", "scale": {"domain": ["1S", "2S"], "range": ["#555555", "#ff3333"]}, "legend": null}}},
        {"data": {"name": "pts"}, "mark": {"type": "point", "filled": true, "opacity": 1, "size": 180, "shape": "M0,-1L0.235,-0.324L0.951,-0.309L0.38,0.124L0.588,0.809L0,0.4L-0.588,0.809L-0.38,0.124L-0.951,-0.309L-0.235,-0.324Z"},
         "encoding": {
           "x": {"field": "N", "type": "quantitative", "axis": null},
           "y": {"field": "v", "type": "quantitative", "axis": null},
           "fill": {"field": "state", "type": "nominal", "scale": {"domain": ["1S", "2S"], "range": ["#444444", "#ff3333"]}, "legend": null}}},
        {"data": {"name": "unity"}, "mark": {"type": "rule", "color": "#000", "strokeWidth": 1.3, "strokeDash": [2, 2]},
         "encoding": {"x": {"field": "N1", "type": "quantitative", "axis": null}, "x2": {"field": "N2"}, "y": {"field": "v", "type": "quantitative", "axis": null}}},
        {"data": {"name": "globalUnc"}, "mark": {"type": "rect", "fill": "#ff3333"},
         "encoding": {"x": {"field": "N1", "type": "quantitative", "axis": null}, "x2": {"field": "N2"}, "y": {"field": "lo", "type": "quantitative", "axis": null}, "y2": {"field": "hi"}}},
        {"data": {"name": "legBoxR"}, "transform": [{"filter": "datum.k == '1S'"}], "mark": {"type": "rect", "fill": "#9b9bf5", "stroke": "#1c1cf0", "strokeWidth": 1.5},
         "encoding": {"x": {"field": "N1", "type": "quantitative", "axis": null}, "x2": {"field": "N2"}, "y": {"field": "v1", "type": "quantitative", "axis": null}, "y2": {"field": "v2"}}},
        {"data": {"name": "legBoxR"}, "transform": [{"filter": "datum.k == '2S'"}], "mark": {"type": "rect", "fill": "#a3a3f6"},
         "encoding": {"x": {"field": "N1", "type": "quantitative", "axis": null}, "x2": {"field": "N2"}, "y": {"field": "v1", "type": "quantitative", "axis": null}, "y2": {"field": "v2"}}},
        {"data": {"name": "legBoxR"}, "transform": [{"filter": "datum.k == '2S'"}], "mark": {"type": "rect", "fill": {"gradient": "linear", "x1": 0, "y1": 0, "x2": 1.2, "y2": 0.64, "stops": [
{"offset":0,"color":"#fff0"},{"offset":0.021,"color":"#fff"},{"offset":0.119,"color":"#fff"},
{"offset":0.14,"color":"#fff0"},{"offset":0.161,"color":"#fff"},{"offset":0.259,"color":"#fff"},
{"offset":0.28,"color":"#fff0"},{"offset":0.301,"color":"#fff"},{"offset":0.399,"color":"#fff"},
{"offset":0.42,"color":"#fff0"},{"offset":0.441,"color":"#fff"},{"offset":0.539,"color":"#fff"},
{"offset":0.56,"color":"#fff0"},{"offset":0.581,"color":"#fff"},{"offset":0.679,"color":"#fff"},
{"offset":0.70,"color":"#fff0"},{"offset":0.721,"color":"#fff"},{"offset":0.819,"color":"#fff"},
{"offset":0.84,"color":"#fff0"},{"offset":0.861,"color":"#fff"},{"offset":0.959,"color":"#fff"},
{"offset":0.98,"color":"#fff0"},{"offset":1,"color":"#fff"}
         ]}},
         "encoding": {"x": {"field": "N1", "type": "quantitative", "axis": null}, "x2": {"field": "N2"}, "y": {"field": "v1", "type": "quantitative", "axis": null}, "y2": {"field": "v2"}}},
        {"data": {"name": "legBoxR"}, "transform": [{"filter": "datum.k == '2S'"}], "mark": {"type": "rect", "fill": "transparent", "stroke": "#1c1cf0", "strokeWidth": 1.5},
         "encoding": {"x": {"field": "N1", "type": "quantitative", "axis": null}, "x2": {"field": "N2"}, "y": {"field": "v1", "type": "quantitative", "axis": null}, "y2": {"field": "v2"}}},
        {"data": {"name": "legStarR"}, "mark": {"type": "point", "filled": true, "opacity": 1, "size": 180, "shape": "M0,-1L0.235,-0.324L0.951,-0.309L0.38,0.124L0.588,0.809L0,0.4L-0.588,0.809L-0.38,0.124L-0.951,-0.309L-0.235,-0.324Z"},
         "encoding": {"x": {"field": "N", "type": "quantitative", "axis": null}, "y": {"field": "v", "type": "quantitative", "axis": null},
           "fill": {"field": "state", "type": "nominal", "scale": {"domain": ["1S", "2S"], "range": ["#444444", "#ff3333"]}, "legend": null}}},
        {"data": {"name": "legTextR"}, "mark": {"type": "text", "align": "left", "baseline": "middle", "font": "Liberation Serif", "fontWeight": "bold", "fontSize": 15, "color": "#000"},
         "encoding": {"x": {"field": "N", "type": "quantitative", "axis": null}, "y": {"field": "v", "type": "quantitative", "axis": null}, "text": {"field": "t"}}},
        {"data": {"name": "prelim"}, "mark": {"type": "text", "align": "center", "baseline": "middle", "font": "Liberation Serif", "fontWeight": "bold", "fontSize": 17, "color": "#ff2a2a"},
         "encoding": {"x": {"field": "N", "type": "quantitative", "axis": null}, "y": {"field": "v", "type": "quantitative", "axis": null}, "text": {"field": "t"}}},
        {"data": {"name": "ncollBox"}, "mark": {"type": "rect", "fill": "#c8c8c8"},
         "encoding": {"x": {"field": "N1", "type": "quantitative", "axis": null}, "x2": {"field": "N2"}, "y": {"field": "v1", "type": "quantitative", "axis": null}, "y2": {"field": "v2"}}},
        {"data": {"name": "ncollN"}, "mark": {"type": "text", "align": "left", "baseline": "alphabetic", "font": "Liberation Serif", "fontWeight": "bold", "fontSize": 14, "color": "#000"},
         "encoding": {"x": {"field": "N", "type": "quantitative", "axis": null}, "y": {"field": "v", "type": "quantitative", "axis": null}, "text": {"field": "t"}}},
        {"data": {"name": "ncollSub"}, "mark": {"type": "text", "align": "left", "baseline": "alphabetic", "font": "Liberation Serif", "fontWeight": "bold", "fontSize": 9, "color": "#000"},
         "encoding": {"x": {"field": "N", "type": "quantitative", "axis": null}, "y": {"field": "v", "type": "quantitative", "axis": null}, "text": {"field": "t"}}},
        {"data": {"name": "ncollTxt"}, "mark": {"type": "text", "align": "left", "baseline": "alphabetic", "font": "Liberation Serif", "fontWeight": "bold", "fontSize": 12.5, "color": "#000"},
         "encoding": {"x": {"field": "N", "type": "quantitative", "axis": null}, "y": {"field": "v", "type": "quantitative", "axis": null}, "text": {"field": "t"}}},
        {"data": {"name": "titleBig"}, "mark": {"type": "text", "align": "left", "baseline": "alphabetic", "font": "Liberation Serif", "fontWeight": "bold", "fontSize": 26, "color": "#000"},
         "encoding": {"x": {"field": "N", "type": "quantitative", "axis": null}, "y": {"field": "v", "type": "quantitative", "axis": null}, "text": {"field": "t"}}},
        {"data": {"name": "titleSub"}, "mark": {"type": "text", "align": "left", "baseline": "alphabetic", "font": "Liberation Serif", "fontWeight": "bold", "fontSize": 15, "color": "#000"},
         "encoding": {"x": {"field": "N", "type": "quantitative", "axis": null}, "y": {"field": "v", "type": "quantitative", "axis": null}, "text": {"field": "t"}}},
        {"data": {"name": "yTitleBig"}, "mark": {"type": "text", "align": "left", "baseline": "alphabetic", "angle": 270, "font": "Liberation Serif", "fontWeight": "bold", "fontSize": 26, "color": "#000"},
         "encoding": {"x": {"field": "N", "type": "quantitative", "axis": null}, "y": {"field": "v", "type": "quantitative", "axis": null}, "text": {"field": "t"}}},
        {"data": {"name": "yTitleSub"}, "mark": {"type": "text", "align": "left", "baseline": "alphabetic", "angle": 270, "font": "Liberation Serif", "fontWeight": "bold", "fontSize": 15, "color": "#000"},
         "encoding": {"x": {"field": "N", "type": "quantitative", "axis": null}, "y": {"field": "v", "type": "quantitative", "axis": null}, "text": {"field": "t"}}}
      ]
    }
  ],
  "config": {
    "view": {"stroke": "#222222", "strokeWidth": 2},
    "font": "Liberation Serif",
    "axis": {"grid": false, "title": null, "labelFont": "Liberation Serif", "labelFontWeight": "bold", "labelFontSize": 17, "labelColor": "#000", "tickColor": "#000", "domainColor": "#000", "domainWidth": 2, "tickWidth": 1.5}
  }
}
